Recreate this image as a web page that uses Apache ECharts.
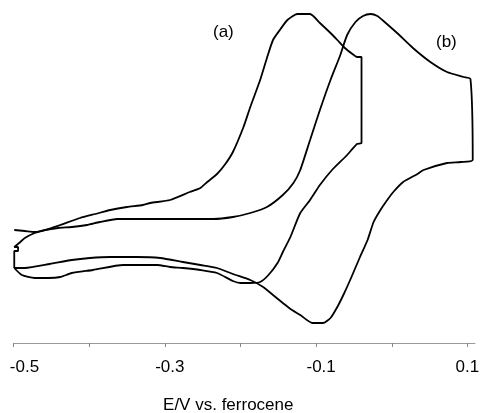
<!DOCTYPE html>
<html>
<head>
<meta charset="utf-8">
<script src="https://cdn.jsdelivr.net/npm/echarts@6/dist/echarts.min.js"></script>
<style>
    html, body {
        margin: 0;
        padding: 0;
        background: #ffffff;
    }

    #chart {
        width: 481px;
        height: 413px;
    }
</style>
</head>
<body>
<div id="chart"></div>
<script>
    // 曲线 (a)：电位 E/V 与电流（任意单位）
    var aPotential = [-0.499, -0.485, -0.472, -0.458, -0.438, -0.412, -0.392, -0.372, -0.350, -0.329,
        -0.319, -0.293, -0.267, -0.253, -0.244, -0.231, -0.220, -0.210, -0.196, -0.187,
        -0.174, -0.165, -0.157, -0.147, -0.138, -0.125, -0.108, -0.095, -0.081, -0.072,
        -0.062, -0.052, -0.046, -0.040, -0.040, -0.046, -0.059, -0.079, -0.095, -0.108,
        -0.121, -0.134, -0.144, -0.151, -0.163, -0.174, -0.187, -0.200, -0.210, -0.231,
        -0.253, -0.276, -0.293, -0.310, -0.355, -0.395, -0.423, -0.438, -0.454, -0.472,
        -0.489, -0.499];
    var aCurrent = [113, 112, 111, 113, 118, 125, 129, 133, 136, 138,
        140, 143, 151, 155, 161, 169, 179, 191, 216, 236,
        263, 285, 303, 314, 323, 329, 329, 320, 310, 303,
        295, 289, 286, 286, 200, 199, 188, 173, 158, 143,
        130, 106, 91, 80, 68, 61, 60, 60, 62, 70,
        73, 75, 76, 78, 78, 73, 70, 66, 65, 65,
        68, 75];

    // 曲线 (b)
    var bPotential = [-0.499, -0.499, -0.494, -0.494, -0.499, -0.491, -0.485, -0.472, -0.458, -0.441,
        -0.423, -0.403, -0.386, -0.363, -0.333, -0.293, -0.267, -0.236, -0.210, -0.187,
        -0.165, -0.144, -0.130, -0.121, -0.108, -0.095, -0.081, -0.068, -0.059, -0.048,
        -0.038, -0.028, -0.019, -0.011, 0.007, 0.028, 0.051, 0.073, 0.095, 0.104,
        0.107, 0.091, 0.073, 0.042, 0.034, 0.015, 0.002, -0.006, -0.015, -0.024,
        -0.032, -0.042, -0.055, -0.064, -0.072, -0.081, -0.091, -0.105, -0.121, -0.134,
        -0.144, -0.157, -0.170, -0.187, -0.210, -0.231, -0.253, -0.276, -0.306, -0.337,
        -0.372, -0.399, -0.423, -0.452, -0.485, -0.499];
    var bCurrent = [75, 92, 92, 96, 96, 101, 105, 110, 113, 115,
        116, 118, 121, 124, 124, 124, 124, 124, 126, 130,
        136, 148, 160, 173, 203, 233, 263, 288, 308, 321,
        327, 329, 327, 322, 310, 295, 281, 271, 266, 264,
        183, 181, 180, 173, 169, 161, 151, 143, 133, 121,
        103, 86, 63, 48, 36, 25, 20, 20, 28, 34,
        40, 48, 56, 63, 69, 75, 78, 81, 85, 86,
        86, 85, 83, 79, 75, 75];

    // 坐标轴刻度
    var tickValues = [-0.5, -0.4, -0.3, -0.2, -0.1, 0, 0.1];
    var labelValues = [-0.5, -0.3, -0.1, 0.1];

    function pairs(xs, ys) {
        var out = [];
        for (var k = 0; k < xs.length; k++) {
            out.push([xs[k], ys[k]]);
        }
        return out;
    }

    var myChart = echarts.init(document.getElementById('chart'), null, {renderer: 'canvas'});

    var lineStyle = {color: '#000000', width: 1.8};

    myChart.setOption({
        animation: false,
        textStyle: {fontFamily: 'Liberation Sans, Arial, sans-serif'},
        grid: {
            left: 13.5,
            right: 6,
            top: 3,
            bottom: 70,
            outerBoundsMode: 'none',
            containLabel: false
        },
        xAxis: {
            type: 'value',
            min: -0.5,
            max: 0.11,
            name: 'E/V vs. ferrocene',
            nameLocation: 'middle',
            nameGap: 54,
            nameTextStyle: {
                color: '#000000',
                fontSize: 17,
                padding: [0, 32, 0, 0]
            },
            axisLine: {
                lineStyle: {color: '#999999', width: 1}
            },
            axisTick: {
                show: true,
                length: 4,
                customValues: tickValues,
                lineStyle: {color: '#888888'}
            },
            axisLabel: {
                customValues: labelValues,
                margin: 16,
                color: '#000000',
                fontSize: 17,
                formatter: function (v) {
                    var s = String(Math.round(v * 10) / 10);
                    if (v < -0.45) {
                        return '{first|' + s + '}';
                    }
                    if (v < 0) {
                        return '{neg|' + s + '}';
                    }
                    return s;
                },
                rich: {
                    first: {fontSize: 17, color: '#000000', padding: [0, 0, 0, 22]},
                    neg: {fontSize: 17, color: '#000000', padding: [0, 0, 0, 10]}
                }
            },
            splitLine: {show: false}
        },
        yAxis: {
            type: 'value',
            min: 0,
            max: 340,
            show: false,
            splitLine: {show: false}
        },
        graphic: [
            {type: 'text', left: 213, top: 24, style: {text: '(a)', fontSize: 17, fontFamily: 'Liberation Sans', fill: '#000000'}},
            {type: 'text', left: 436, top: 34, style: {text: '(b)', fontSize: 17, fontFamily: 'Liberation Sans', fill: '#000000'}}
        ],
        series: [
            {
                name: '(a)',
                type: 'line',
                showSymbol: false,
                smooth: 0.2,
                lineStyle: lineStyle,
                data: pairs(aPotential, aCurrent)
            },
            {
                name: '(b)',
                type: 'line',
                showSymbol: false,
                smooth: 0.2,
                lineStyle: lineStyle,
                data: pairs(bPotential, bCurrent)
            }
        ]
    });
</script>
</body>
</html>
